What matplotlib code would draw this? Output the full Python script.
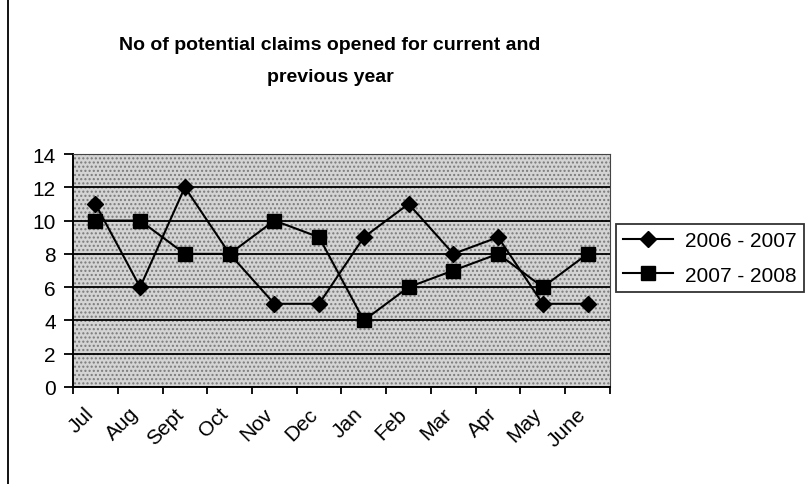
import matplotlib.pyplot as plt
from matplotlib.patches import Rectangle
from matplotlib.lines import Line2D
from matplotlib.transforms import ScaledTranslation

months = ['Jul', 'Aug', 'Sept', 'Oct', 'Nov', 'Dec', 'Jan', 'Feb', 'Mar', 'Apr', 'May', 'June']
claims_0607 = [11, 6, 12, 8, 5, 5, 9, 11, 8, 9, 5, 5]
claims_0708 = [10, 10, 8, 8, 10, 9, 4, 6, 7, 8, 6, 8]
series_names = ['2006 - 2007', '2007 - 2008']

plt.rcParams['font.family'] = ['Liberation Sans', 'DejaVu Sans']

fig = plt.figure(figsize=(8.05, 4.85), dpi=100)
ax = fig.add_axes([0.0907, 0.2, 0.667, 0.4804])

# stippled grey background
ax.set_facecolor('#d4d4d4')
ax.add_patch(Rectangle((0, 0), 1, 1, transform=ax.transAxes, facecolor='none',
                       edgecolor='#7a7a7a', hatch='....', linewidth=0, zorder=0))

x = list(range(len(months)))
ax.plot(x, claims_0607, color='black', lw=1.5, marker='D', ms=8, label=series_names[0], zorder=3)
ax.plot(x, claims_0708, color='black', lw=1.5, marker='s', ms=10, label=series_names[1], zorder=3)

ax.set_ylim(0, 14)
ax.set_yticks(range(0, 15, 2))
ax.set_xlim(-0.5, len(months) - 0.5)
ax.yaxis.grid(True, color='black', lw=1.3)
ax.set_axisbelow(True)

# category ticks between the points, labels centred on them
ax.set_xticks([i - 0.5 for i in range(len(months) + 1)])
ax.set_xticklabels([])
ax.set_xticks(x, minor=True)
ax.set_xticklabels(months, minor=True, rotation=45, ha='right', rotation_mode='anchor', fontsize=15)
ax.tick_params(axis='x', which='minor', length=0, pad=12)
ax.tick_params(axis='x', which='major', length=5, width=1.3, direction='out')
ax.tick_params(axis='y', labelsize=15, length=6.5, width=1.3, pad=6)
shift = ScaledTranslation(-8 / 72, 0, fig.dpi_scale_trans)
for lbl in ax.get_xticklabels(minor=True):
    lbl.set_transform(lbl.get_transform() + shift)

for side in ['top', 'right']:
    ax.spines[side].set_color('#444444')
for side in ['left', 'bottom']:
    ax.spines[side].set_linewidth(1.4)

fig.text(0.41, 0.873, 'No of potential claims opened for current and\nprevious year',
         ha='center', va='center', fontsize=14, fontweight='bold', linespacing=2.1)

leg = ax.legend(loc='center left', bbox_to_anchor=(1.0, 0.554), frameon=True, fancybox=False,
                fontsize=15, handlelength=2.4, borderpad=0.35, labelspacing=0.73,
                handletextpad=0.55, borderaxespad=0.3)
leg.get_frame().set_edgecolor('black')
leg.get_frame().set_linewidth(1.3)

fig.add_artist(Line2D([0.01, 0.01], [0.0, 1.0], color='black', lw=1.3))

fig.savefig('out.png', dpi=100)
